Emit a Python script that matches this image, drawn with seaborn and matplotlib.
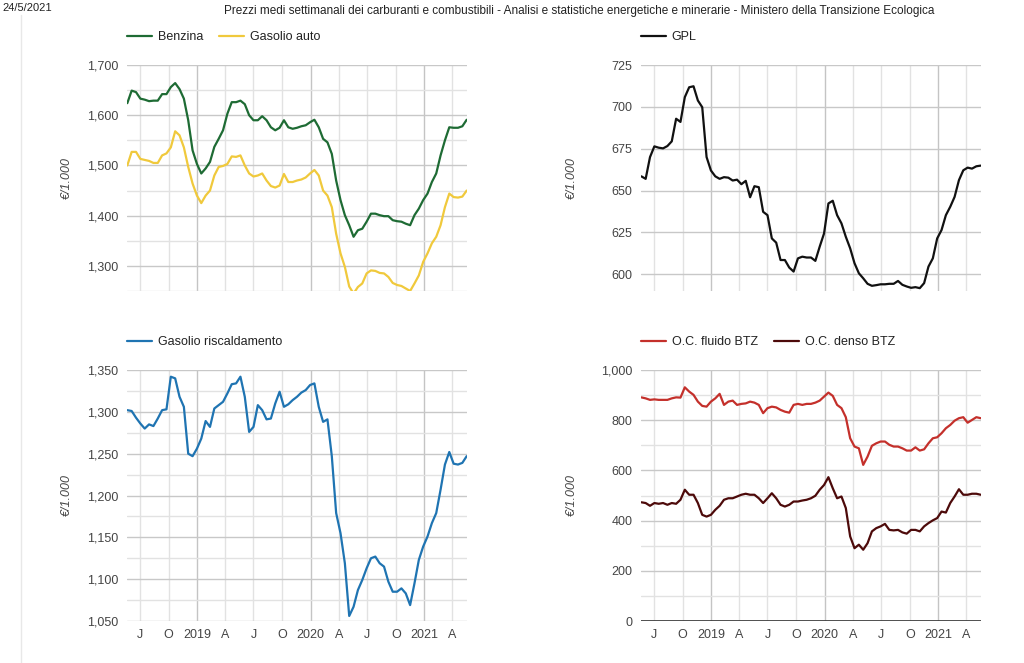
import matplotlib
matplotlib.use('Agg')
import pandas as pd
import matplotlib.pyplot as plt
import matplotlib.ticker as mticker
from matplotlib.lines import Line2D
import seaborn as sns

# biweekly sampling of the weekly price series (May 2018 - May 2021)
weeks = pd.date_range('2018-05-21', periods=79, freq='14D')

benzina = [1624, 1649, 1646, 1633, 1631, 1628, 1629, 1629, 1642, 1642,
           1656, 1664, 1652, 1633, 1590, 1530, 1503, 1484, 1494, 1507,
           1537, 1553, 1570, 1603, 1626, 1626, 1629, 1622, 1600, 1590,
           1590, 1598, 1590, 1576, 1570, 1575, 1590, 1576, 1573, 1575,
           1578, 1580, 1586, 1591, 1576, 1553, 1546, 1523, 1470, 1431,
           1401, 1381, 1358, 1371, 1374, 1388, 1404, 1404, 1401, 1399,
           1399, 1391, 1389, 1388, 1384, 1381, 1401, 1414, 1431, 1444,
           1467, 1484, 1520, 1550, 1576, 1575, 1575, 1578, 1591]

gasolio_auto = [1500, 1527, 1527, 1513, 1511, 1509, 1505, 1505, 1520, 1524,
                1536, 1568, 1560, 1536, 1497, 1464, 1440, 1425, 1440, 1450,
                1480, 1497, 1499, 1503, 1518, 1517, 1520, 1500, 1484, 1478,
                1480, 1484, 1470, 1459, 1456, 1460, 1483, 1467, 1467, 1470,
                1472, 1476, 1484, 1491, 1480, 1450, 1440, 1417, 1364, 1325,
                1298, 1259, 1245, 1258, 1265, 1285, 1291, 1290, 1286, 1285,
                1278, 1266, 1262, 1260, 1255, 1250, 1265, 1281, 1308, 1325,
                1345, 1358, 1381, 1417, 1444, 1437, 1436, 1438, 1450]

gpl = [658.5, 657, 670, 676.4, 675.6, 675.2, 676.6, 679.4, 692.9, 691,
       705.8, 711.7, 712.3, 703.8, 699.8, 670, 662, 658.5, 657, 658,
       657.7, 656, 656.5, 653.8, 655.8, 646, 652.6, 652, 637.3, 635.3,
       621.4, 618.9, 608.5, 608.5, 604, 601.6, 609.5, 610.5, 610, 610,
       608, 616.5, 624.4, 642.3, 643.9, 635.3, 630.4, 622.4, 615.5, 606.6,
       600.6, 597.6, 594.3, 593.1, 593.5, 594, 594, 594.3, 594.3, 596,
       593.7, 592.7, 591.9, 592.3, 591.7, 594.7, 604.6, 609.5, 621.4, 626.4,
       635.3, 640.3, 646.2, 656.2, 662.1, 663.7, 663.1, 664.5, 664.9]

gasolio_risc = [1302, 1301, 1293, 1286, 1280, 1285, 1283, 1292, 1302, 1303,
                1342, 1340, 1318, 1306, 1250, 1247, 1256, 1268, 1289, 1282,
                1304, 1308, 1312, 1322, 1333, 1334, 1342, 1318, 1276, 1282,
                1308, 1302, 1291, 1292, 1310, 1324, 1306, 1309, 1314, 1318,
                1323, 1326, 1332, 1334, 1306, 1288, 1291, 1247, 1179, 1155,
                1119, 1056, 1067, 1087, 1099, 1113, 1125, 1127, 1119, 1115,
                1097, 1085, 1085, 1089, 1083, 1069, 1095, 1123, 1139, 1151,
                1167, 1179, 1207, 1237, 1252, 1238, 1237, 1239, 1247]

oc_fluido = [891, 887, 881, 883, 881, 881, 881, 887, 891, 890,
             931, 914, 901, 874, 857, 854, 874, 887, 905, 861,
             874, 878, 861, 865, 867, 874, 870, 861, 828, 848,
             854, 851, 841, 834, 830, 861, 865, 861, 865, 865,
             870, 878, 894, 910, 897, 861, 848, 812, 728, 695,
             688, 622, 655, 698, 708, 715, 715, 702, 695, 695,
             688, 679, 679, 692, 679, 684, 708, 728, 732, 748,
             768, 781, 798, 808, 812, 790, 801, 812, 808]

oc_denso = [473, 470, 459, 470, 467, 470, 463, 470, 467, 483,
            523, 503, 503, 470, 423, 416, 423, 443, 459, 483,
            489, 489, 496, 503, 507, 503, 503, 489, 470, 489,
            509, 489, 463, 456, 463, 476, 476, 480, 483, 489,
            499, 523, 542, 573, 529, 489, 496, 450, 337, 290,
            304, 284, 310, 357, 370, 377, 387, 363, 361, 363,
            353, 348, 363, 363, 357, 377, 390, 401, 410, 436,
            432, 470, 496, 525, 503, 503, 507, 507, 503]

quarter_ticks = pd.to_datetime(['2018-07-01', '2018-10-01', '2019-01-01', '2019-04-01',
                                '2019-07-01', '2019-10-01', '2020-01-01', '2020-04-01',
                                '2020-07-01', '2020-10-01', '2021-01-01', '2021-04-01'])
quarter_labels = ['J', 'O', '2019', 'A', 'J', 'O', '2020', 'A', 'J', 'O', '2021', 'A']

title = ('Prezzi medi settimanali dei carburanti e combustibili - Analisi e statistiche '
         'energetiche e minerarie - Ministero della Transizione Ecologica')

W, H = 1024, 663

sns.set_theme(style='white')
plt.rcParams['font.family'] = ['Liberation Sans', 'DejaVu Sans']

fig = plt.figure(figsize=(W / 100, H / 100), dpi=100)


def px_axes(l, t, r, b):
    return fig.add_axes([l / W, 1 - b / H, (r - l) / W, (b - t) / H])


def style(ax, ylim, major, minor, show_x, label_x, leg_y):
    ax.set_xlim(pd.Timestamp('2018-05-20'), pd.Timestamp('2021-05-18'))
    ax.set_ylim(*ylim)
    ax.yaxis.set_major_locator(mticker.MultipleLocator(major))
    ax.yaxis.set_major_formatter(mticker.FuncFormatter(lambda v, p: f'{v:,.0f}'))
    if minor:
        ax.yaxis.set_minor_locator(mticker.MultipleLocator(minor))
        ax.grid(which='minor', axis='y', color='#e2e2e2', lw=1)
    ax.grid(which='major', axis='y', color='#c8c8c8', lw=1)
    ax.set_xticks(quarter_ticks)
    ax.set_xticklabels(quarter_labels if show_x else [])
    ax.grid(which='major', axis='x', color='#e2e2e2', lw=1)
    for g, lab in zip(ax.get_xgridlines(), quarter_labels):
        if lab.isdigit():
            g.set_color('#c4c4c4')
    for s in ax.spines.values():
        s.set_visible(False)
    ax.tick_params(which='both', length=0, labelcolor='#444444', labelsize=9, pad=6)
    ax.set_axisbelow(True)
    ax.set_xlabel('')
    ax.set_ylabel('€/1.000', style='italic', color='#444444', fontsize=9)
    ax.yaxis.set_label_coords(label_x, 0.5)
    ax.legend(loc='center left', bbox_to_anchor=(0.0, leg_y), ncol=2, frameon=False,
              fontsize=9, handlelength=2.0, handletextpad=0.45, columnspacing=1.3,
              borderaxespad=0, borderpad=0, labelcolor='#222222')


lw = 1.6

# Benzina / Gasolio auto
ax1 = px_axes(127, 65, 467, 291)
sns.lineplot(x=weeks, y=benzina, ax=ax1, color='#1e6b34', lw=lw, label='Benzina')
sns.lineplot(x=weeks, y=gasolio_auto, ax=ax1, color='#f0c93c', lw=lw, label='Gasolio auto')
style(ax1, (1250, 1700), 100, 50, False, -0.16, 1 + 28 / 226)

# GPL
ax2 = px_axes(641, 65, 981, 291)
sns.lineplot(x=weeks, y=gpl, ax=ax2, color='#111111', lw=lw, label='GPL')
style(ax2, (590, 725), 25, None, False, -0.186, 1 + 28 / 226)

# Gasolio riscaldamento
ax3 = px_axes(127, 370, 467, 621)
sns.lineplot(x=weeks, y=gasolio_risc, ax=ax3, color='#1f74b2', lw=lw, label='Gasolio riscaldamento')
style(ax3, (1050, 1350), 50, 25, True, -0.16, 1 + 28 / 251)

# Olio combustibile
ax4 = px_axes(641, 370, 981, 621)
sns.lineplot(x=weeks, y=oc_fluido, ax=ax4, color='#c4302b', lw=lw, label='O.C. fluido BTZ')
sns.lineplot(x=weeks, y=oc_denso, ax=ax4, color='#4d0a0a', lw=lw, label='O.C. denso BTZ')
style(ax4, (0, 1000), 200, 100, True, -0.186, 1 + 28 / 251)
ax4.axhline(0, color='#333333', lw=1.2, zorder=1)

fig.text(0.566, 0.993, title, ha='center', va='top', fontsize=8.5, color='#222222')
fig.text(0.002, 0.995, '24/5/2021', ha='left', va='top', fontsize=8, color='#222222')
fig.add_artist(Line2D([21 / W, 21 / W], [0, 1 - 15 / H], color='#e8e8e8', lw=1))

fig.savefig('out.png', dpi=100)
